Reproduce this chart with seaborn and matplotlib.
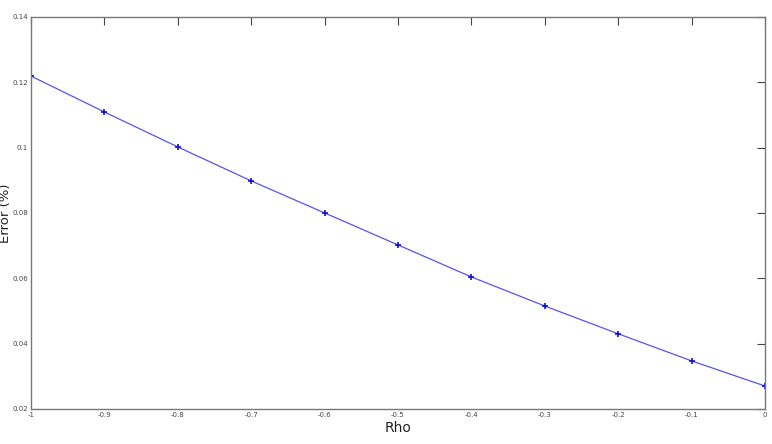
import matplotlib
matplotlib.use("Agg")
import matplotlib.pyplot as plt
import seaborn as sns
import pandas as pd

rho = [-1.0, -0.9, -0.8, -0.7, -0.6, -0.5, -0.4, -0.3, -0.2, -0.1, 0.0]
error = [0.1219, 0.1109, 0.1002, 0.0898, 0.0800, 0.0702, 0.0604, 0.0515, 0.0430, 0.0347, 0.0270]
xticks = [-1, -0.9, -0.8, -0.7, -0.6, -0.5, -0.4, -0.3, -0.2, -0.1, 0]
xticklabels = ["-1", "-0.9", "-0.8", "-0.7", "-0.6", "-0.5", "-0.4", "-0.3", "-0.2", "-0.1", "0"]
yticks = [0.02, 0.04, 0.06, 0.08, 0.1, 0.12, 0.14]
yticklabels = ["0.02", "0.04", "0.06", "0.08", "0.1", "0.12", "0.14"]

df = pd.DataFrame({"Rho": rho, "Error": error})

sns.set_style("white")
plt.rcParams["font.family"] = ["DejaVu Sans"]

fig = plt.figure(figsize=(7.72, 4.44), dpi=100)
ax = fig.add_axes([0.040, 0.079, 0.951, 0.883])

sns.lineplot(data=df, x="Rho", y="Error", ax=ax, color="#5555ee", linewidth=0.9,
             marker="+", markersize=5, markeredgewidth=1.2, markeredgecolor="#1010cc")

ax.set_xlim(-1, 0)
ax.set_ylim(0.02, 0.14)
ax.set_xticks(xticks)
ax.set_xticklabels(xticklabels)
ax.set_yticks(yticks)
ax.set_yticklabels(yticklabels)
ax.tick_params(axis="both", direction="in", length=6, width=0.8, labelsize=5,
               colors="#444444", top=True, right=True, pad=2)
for s in ax.spines.values():
    s.set_color("#777777")
    s.set_linewidth(1.0)
    s.set_visible(True)
ax.set_xlabel("Rho", fontsize=10, color="#222222")
ax.set_ylabel("Error (%)", fontsize=9.5, color="#222222")
ax.xaxis.set_label_coords(0.5, -0.030)
ax.yaxis.set_label_coords(-0.0255, 0.5)

fig.savefig("out.png", dpi=100)
